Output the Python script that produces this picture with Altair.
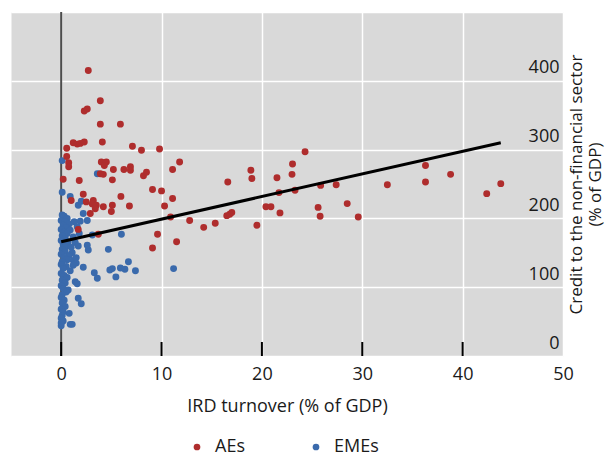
import altair as alt
import pandas as pd

# ---- data ----
ae_x = [2.7, 3.9, 2.3, 2.6, 3.9, 5.9,
        1.2, 1.6, 1.9, 2.3, 4.1, 0.55,
        7.1, 8.0, 9.8, 0.55, 4.0, 4.5, 4.3,
        11.8, 0.75, 0.75, 5.2, 6.25, 6.9, 6.9,
        8.2, 8.5, 11.1, 3.9, 4.2, 0.2, 1.8, 5.1,
        2.2, 5.95, 1.0, 2.5, 3.2, 3.1, 3.5, 3.4,
        4.2, 5.1, 5.0, 6.8, 2.9, 1.7, 3.7,
        9.1, 10.0, 11.1, 10.3, 10.9, 12.8, 9.6, 11.5, 9.1,
        14.2, 15.35, 16.5, 16.8, 17.0, 16.6, 18.9, 19.0, 19.5,
        24.3, 23.05, 23.0, 21.5, 21.7, 23.3, 25.85, 27.4, 32.5,
        20.4, 20.9, 21.8, 25.6, 25.8, 28.5, 29.6,
        36.3, 36.3, 38.8, 42.4, 43.8]
ae_y = [415, 371, 356, 359, 337, 337,
        310, 308, 309, 311, 311, 302,
        305, 299, 301, 290, 282, 282, 277,
        282, 281, 275, 271, 271, 275, 270,
        262, 267, 271, 265, 264, 257, 255, 256,
        235, 232, 226, 224, 226, 221, 219, 214,
        217, 219, 210, 218, 207, 184, 177,
        242, 240, 229, 218, 202, 197, 177, 166, 157,
        187, 193, 204, 206, 208.5, 253, 270, 258, 190,
        297, 279, 264, 259, 237.5, 241, 248, 249, 249,
        217, 217, 208, 216, 203, 221.5, 202,
        277, 253, 264, 236, 250.5]

eme_x = [0.1, 3.6, 0.1, 0.9, 1.7, 2.0, 2.2, 2.6, 1.9, 3.1, 6.0,
         2.7, 2.6, 4.7, 6.7, 4.85, 5.1, 5.9, 6.35, 7.4, 5.45,
         3.3, 3.6, 11.2, 2.2, 1.4, 1.6, 1.7, 2.0, 0.8, 0.9, 1.1, 0.0,
         1.2, 1.5, 0.7,
         1.3, 1.6, 1.8, 1.4, 1.1, 1.7, 1.5, 1.2,
         0.1, 0.3, 0.6, 0.0, 0.4, 0.8, 0.2, 0.5, 0.0, 0.9,
         0.3, 0.6, 0.1, 1.2, 0.4, 0.0, 0.7, 0.2, 0.5, 1.0,
         0.1, 0.4, 0.0, 0.8, 0.3, 0.6, 0.1, 0.0, 0.5, 0.2,
         0.9, 0.0, 0.3, 0.6, 0.1, 0.4, 0.0, 0.2, 0.5, 0.1,
         0.0, 0.3, 0.1, 0.4, 0.0, 0.2, 0.1, 0.0, 0.2, 0.0]
eme_y = [284, 265, 238, 232, 219, 225, 207, 197, 196, 176, 177,
         154, 161, 155, 137, 125, 127, 128, 126, 124, 115,
         121, 113, 127, 129, 108, 105, 84, 76, 62, 46, 46, 44,
         139, 135, 96,
         195, 188, 178, 165, 150, 160, 143, 132,
         205, 203, 200, 197, 195, 192, 190, 187, 184, 183,
         180, 178, 175, 173, 171, 168, 166, 162, 160, 158,
         155, 152, 148, 146, 143, 140, 137, 133, 130, 127,
         124, 120, 117, 114, 110, 106, 102, 98, 93, 89,
         85, 81, 77, 72, 68, 64, 59, 55, 51, 48]

fit_x = [0, 43.8]
fit_y = [166, 310]

groups = ["AEs", "EMEs"]
group_colors = ["#AF2D2D", "#3A6AAC"]

x_ticks = [0, 10, 20, 30, 40, 50]
x_inner_ticks = [0, 10, 20, 30, 40]
y_ticks = [0, 100, 200, 300, 400, 500]
zero_line = [0]

# ---- tables ----
pts = pd.concat([
    pd.DataFrame({"x": eme_x, "y": eme_y, "group": groups[1]}),
    pd.DataFrame({"x": ae_x, "y": ae_y, "group": groups[0]}),
], ignore_index=True)
fit = pd.DataFrame({"x": fit_x, "y": fit_y})
ticks_df = pd.DataFrame({"x": x_inner_ticks})
zero_df = pd.DataFrame({"x": zero_line})

W, H = 552, 344
FONT = "Open Sans"

x_enc = alt.X(
    "x:Q",
    scale=alt.Scale(domain=[-5, 50], nice=False, zero=False),
    axis=alt.Axis(values=x_ticks, title="IRD turnover (% of GDP)", grid=True,
                  ticks=False, domain=False, labelPadding=9, titlePadding=14,
                  labelFlush=False),
)
y_enc = alt.Y(
    "y:Q",
    scale=alt.Scale(domain=[0, 500], nice=False, zero=False),
    axis=alt.Axis(orient="right", values=y_ticks,
                  labelExpr="datum.value >= 500 ? '' : datum.label",
                  title=["Credit to the non-financial sector", "(% of GDP)"],
                  ticks=False, tickSize=0, domain=False, labelAlign="right",
                  labelBaseline="middle", labelPadding=-4, labelOffset=-13,
                  labelFlush=False, labelOverlap=False,
                  titleAngle=270, titleX=13, titleY=H / 2,
                  titleAlign="center", titleBaseline="middle",
                  titleFontSize=17, titleLineHeight=19),
)

zero_layer = alt.Chart(zero_df).mark_rule(color="#4D4D4D", strokeWidth=2).encode(x=x_enc)

tick_layer = alt.Chart(ticks_df).mark_rule(color="#000000", strokeWidth=2).encode(
    x=x_enc, y=alt.value(H - 14), y2=alt.value(H)
)

point_layer = alt.Chart(pts).mark_circle(size=48, opacity=1).encode(
    x=x_enc,
    y=y_enc,
    color=alt.Color("group:N",
                    scale=alt.Scale(domain=groups, range=group_colors),
                    legend=alt.Legend(title=None, orient="none", legendX=177, legendY=426,
                                      direction="horizontal", symbolType="circle",
                                      symbolSize=45, labelFontSize=18, labelFont=FONT,
                                      labelColor="#1A1A1A", columnPadding=62,
                                      labelOffset=9)),
)

fit_layer = alt.Chart(fit).mark_line(color="#000000", strokeWidth=3).encode(x=x_enc, y=y_enc)

chart = alt.layer(zero_layer, tick_layer, point_layer, fit_layer).properties(
    width=W, height=H,
    autosize=alt.AutoSizeParams(type="none"),
    padding={"left": 3, "top": 4, "right": 42, "bottom": 100},
).configure_view(
    fill="#D9D9D9", stroke="transparent"
).configure_axis(
    labelFont=FONT, labelFontSize=18, labelColor="#1A1A1A",
    titleFont=FONT, titleFontSize=18, titleFontWeight="normal", titleColor="#1A1A1A",
    gridColor="#FFFFFF", gridWidth=1.5, gridOpacity=1,
)

chart.save("out.html", embed_options={"renderer": "svg", "actions": False})
